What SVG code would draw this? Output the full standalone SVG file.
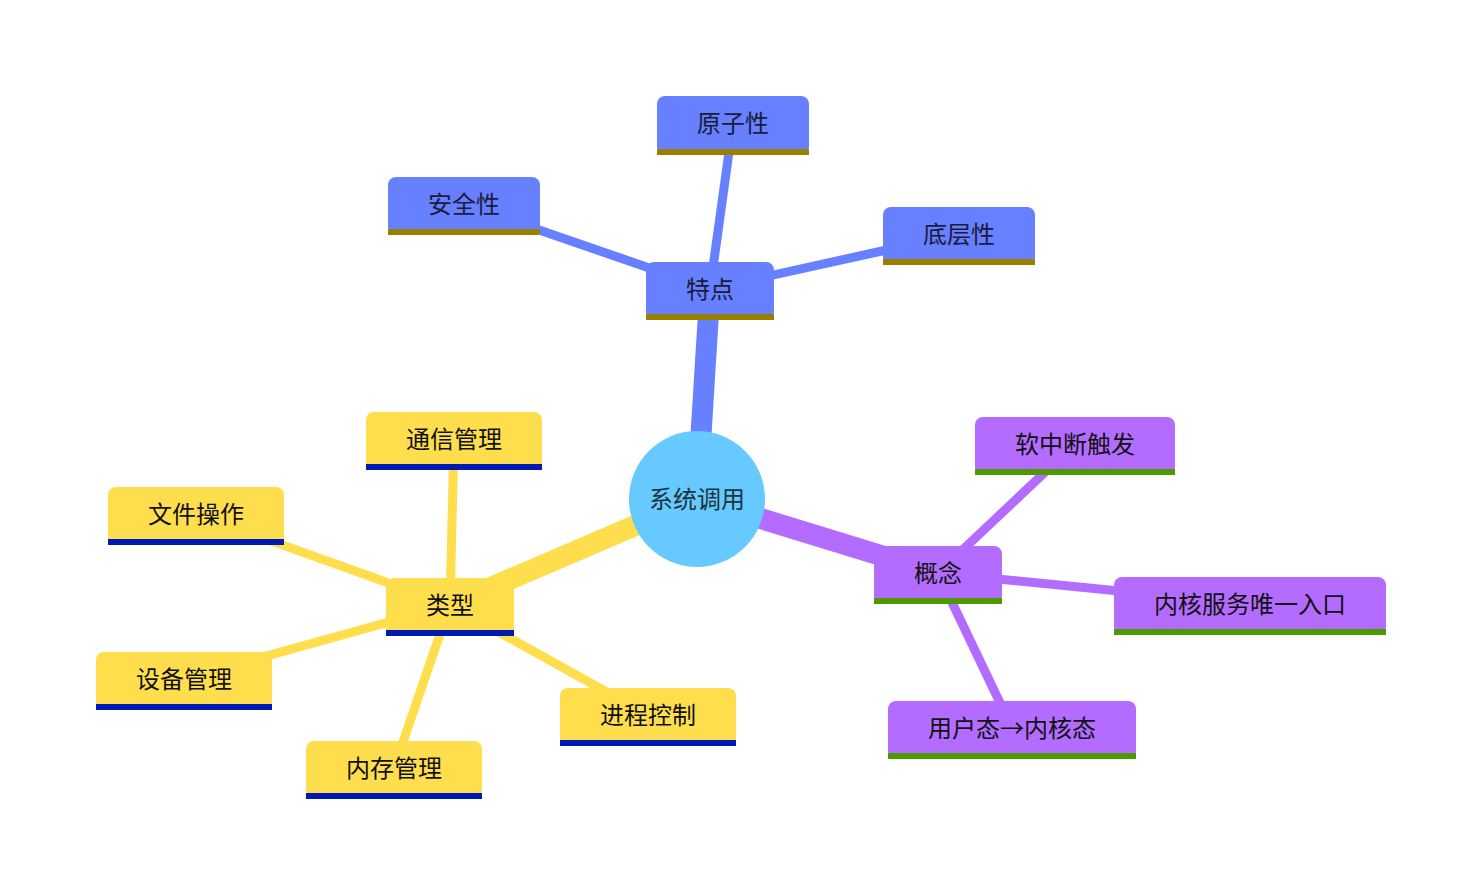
<svg xmlns="http://www.w3.org/2000/svg" width="1482" height="893" viewBox="0 0 1482 893">
<style>
text{font-family:"Noto Sans CJK SC","Noto Sans",sans-serif;font-size:24px;text-anchor:middle;dominant-baseline:central}
.e{fill:none;stroke-linecap:butt}
.b{stroke:#6680FF}.y{stroke:#FFDE4D}.p{stroke:#B36CFF}
.t0{stroke-width:21}.t1{stroke-width:9}
.nb{fill:#6680FF}.ny{fill:#FFDE4D}.np{fill:#B36CFF}
.bb{fill:#998000}.by{fill:#0019B3}.bp{fill:#4C9900}
.tb{fill:#1b1b3a}.ty{fill:#111}.tp{fill:#111}
</style>
<rect width="1482" height="893" fill="#fff"/>
<g id="connectors">
<line class="e b t0" x1="697" y1="499" x2="710" y2="289"/>
<line class="e y t0" x1="697" y1="499" x2="450" y2="605"/>
<line class="e p t0" x1="697" y1="499" x2="938" y2="573"/>
<line class="e b t1" x1="710" y1="289" x2="733" y2="123"/>
<line class="e b t1" x1="710" y1="289" x2="464" y2="204"/>
<line class="e b t1" x1="710" y1="289" x2="959" y2="234"/>
<line class="e y t1" x1="450" y1="605" x2="454" y2="439"/>
<line class="e y t1" x1="450" y1="605" x2="196" y2="514"/>
<line class="e y t1" x1="450" y1="605" x2="184" y2="679"/>
<line class="e y t1" x1="450" y1="605" x2="394" y2="768"/>
<line class="e y t1" x1="450" y1="605" x2="648" y2="715"/>
<line class="e p t1" x1="938" y1="573" x2="1075" y2="444"/>
<line class="e p t1" x1="938" y1="573" x2="1250" y2="604"/>
<line class="e p t1" x1="938" y1="573" x2="1012" y2="728"/>
</g>
<g id="root">
<circle cx="697" cy="499" r="68" fill="#66C9FF"/>
<text x="697" y="497" fill="#1d3340">系统调用</text>
</g>
<g id="n-tedian">
<rect class="nb" x="646" y="262" width="128" height="58" rx="8"/>
<rect class="bb" x="646" y="314" width="128" height="6"/>
<text class="tb" x="710" y="287">特点</text>
</g>
<g id="n-yuanzixing">
<rect class="nb" x="657" y="96" width="152" height="59" rx="8"/>
<rect class="bb" x="657" y="149" width="152" height="6"/>
<text class="tb" x="733" y="121">原子性</text>
</g>
<g id="n-anquanxing">
<rect class="nb" x="388" y="177" width="152" height="58" rx="8"/>
<rect class="bb" x="388" y="229" width="152" height="6"/>
<text class="tb" x="464" y="202">安全性</text>
</g>
<g id="n-dicengxing">
<rect class="nb" x="883" y="207" width="152" height="58" rx="8"/>
<rect class="bb" x="883" y="259" width="152" height="6"/>
<text class="tb" x="959" y="232">底层性</text>
</g>
<g id="n-leixing">
<rect class="ny" x="386" y="578" width="128" height="58" rx="8"/>
<rect class="by" x="386" y="630" width="128" height="6"/>
<text class="ty" x="450" y="603">类型</text>
</g>
<g id="n-tongxin">
<rect class="ny" x="366" y="412" width="176" height="58" rx="8"/>
<rect class="by" x="366" y="464" width="176" height="6"/>
<text class="ty" x="454" y="437">通信管理</text>
</g>
<g id="n-wenjian">
<rect class="ny" x="108" y="487" width="176" height="58" rx="8"/>
<rect class="by" x="108" y="539" width="176" height="6"/>
<text class="ty" x="196" y="512">文件操作</text>
</g>
<g id="n-shebei">
<rect class="ny" x="96" y="652" width="176" height="58" rx="8"/>
<rect class="by" x="96" y="704" width="176" height="6"/>
<text class="ty" x="184" y="677">设备管理</text>
</g>
<g id="n-neicun">
<rect class="ny" x="306" y="741" width="176" height="58" rx="8"/>
<rect class="by" x="306" y="793" width="176" height="6"/>
<text class="ty" x="394" y="766">内存管理</text>
</g>
<g id="n-jincheng">
<rect class="ny" x="560" y="688" width="176" height="58" rx="8"/>
<rect class="by" x="560" y="740" width="176" height="6"/>
<text class="ty" x="648" y="713">进程控制</text>
</g>
<g id="n-gainian">
<rect class="np" x="874" y="546" width="128" height="58" rx="8"/>
<rect class="bp" x="874" y="598" width="128" height="6"/>
<text class="tp" x="938" y="571">概念</text>
</g>
<g id="n-ruanzhongduan">
<rect class="np" x="975" y="417" width="200" height="58" rx="8"/>
<rect class="bp" x="975" y="469" width="200" height="6"/>
<text class="tp" x="1075" y="442">软中断触发</text>
</g>
<g id="n-neihe">
<rect class="np" x="1114" y="577" width="272" height="58" rx="8"/>
<rect class="bp" x="1114" y="629" width="272" height="6"/>
<text class="tp" x="1250" y="602">内核服务唯一入口</text>
</g>
<g id="n-yonghutai">
<rect class="np" x="888" y="701" width="248" height="58" rx="8"/>
<rect class="bp" x="888" y="753" width="248" height="6"/>
<text class="tp" x="1012" y="726">用户态→内核态</text>
</g>
</svg>
